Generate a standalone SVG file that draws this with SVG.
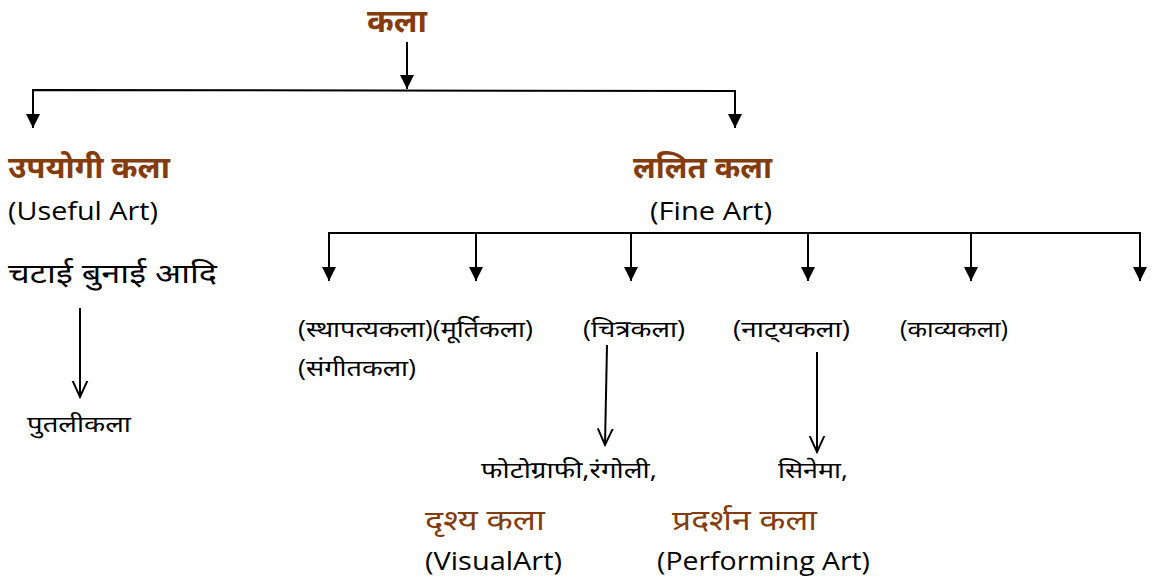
<svg xmlns="http://www.w3.org/2000/svg" width="1157" height="583" viewBox="0 0 1157 583">
<style>
text{font-family:"Open Sans","Noto Sans","Liberation Sans",sans-serif;fill:#000}
.h{fill:#843C0C;font-size:30px;font-weight:bold}
.s{fill:#843C0C;font-size:28px}
.e{font-size:26px}
.d{font-size:23px}
.c{stroke:#000;stroke-width:2;fill:none}
</style>
<defs>
<marker id="tri" viewBox="0 0 10 10" refX="10" refY="5" markerWidth="15" markerHeight="14" markerUnits="userSpaceOnUse" orient="auto">
<path d="M0,0 L10,5 L0,10 z" fill="#000"/>
</marker>
<marker id="open" viewBox="0 0 12 12" refX="11" refY="6" markerWidth="18" markerHeight="18" markerUnits="userSpaceOnUse" orient="auto">
<path d="M0,1 L11,6 L0,11" fill="none" stroke="#000" stroke-width="1.3"/>
</marker>
</defs>
<rect width="1157" height="583" fill="#fff"/>
<g id="connectors">
<line class="c" x1="407" y1="42" x2="407" y2="89" marker-end="url(#tri)"/>
<polyline class="c" points="33,128 33,90 735,91 735,128"/>
<line class="c" x1="33" y1="110" x2="33" y2="128" marker-end="url(#tri)"/>
<line class="c" x1="735" y1="110" x2="735" y2="128" marker-end="url(#tri)"/>
<line class="c" x1="328" y1="233" x2="1141" y2="233"/>
<line class="c" x1="329" y1="233" x2="329" y2="281" marker-end="url(#tri)"/>
<line class="c" x1="476" y1="234" x2="476" y2="281" marker-end="url(#tri)"/>
<line class="c" x1="631" y1="233" x2="631" y2="281" marker-end="url(#tri)"/>
<line class="c" x1="808" y1="233" x2="808" y2="281" marker-end="url(#tri)"/>
<line class="c" x1="971" y1="233" x2="971" y2="281" marker-end="url(#tri)"/>
<line class="c" x1="1140" y1="233" x2="1140" y2="281" marker-end="url(#tri)"/>
<line class="c" x1="80" y1="308" x2="80" y2="397" marker-end="url(#open)"/>
<line class="c" x1="607" y1="345" x2="605" y2="445" marker-end="url(#open)"/>
<line class="c" x1="817" y1="352" x2="817" y2="452" marker-end="url(#open)"/>
</g>
<g id="kala"><text class="h" x="367" y="32" style="font-size:32px" textLength="60" lengthAdjust="spacingAndGlyphs">कला</text></g>
<g id="upyogi">
<text class="h" x="8" y="178" textLength="162" lengthAdjust="spacingAndGlyphs">उपयोगी कला</text>
<text class="e" x="8" y="220" textLength="150" lengthAdjust="spacingAndGlyphs">(Useful Art)</text>
<text class="d" x="8" y="283" style="font-size:27px" textLength="209" lengthAdjust="spacingAndGlyphs">चटाई बुनाई आदि</text>
</g>
<g id="putli"><text class="d" x="27" y="432" textLength="104" lengthAdjust="spacingAndGlyphs">पुतलीकला</text></g>
<g id="lalit">
<text class="h" x="633" y="178" textLength="139" lengthAdjust="spacingAndGlyphs">ललित कला</text>
<text class="e" x="650" y="220" textLength="122" lengthAdjust="spacingAndGlyphs">(Fine Art)</text>
</g>
<g id="sthapatya"><text class="d" x="298" y="337" textLength="235" lengthAdjust="spacingAndGlyphs">(स्थापत्यकला)(मूर्तिकला)</text>
<text class="d" x="298" y="376" textLength="118" lengthAdjust="spacingAndGlyphs">(संगीतकला)</text></g>
<g id="chitra"><text class="d" x="583" y="337" textLength="102" lengthAdjust="spacingAndGlyphs">(चित्रकला)</text></g>
<g id="natya"><text class="d" x="733" y="337" textLength="117" lengthAdjust="spacingAndGlyphs">(नाट्‌यकला)</text></g>
<g id="kavya"><text class="d" x="900" y="337" textLength="108" lengthAdjust="spacingAndGlyphs">(काव्यकला)</text></g>
<g id="photo"><text class="d" x="481" y="478" textLength="176" lengthAdjust="spacingAndGlyphs">फोटोग्राफी,रंगोली,</text></g>
<g id="cinema"><text class="d" x="778" y="478" textLength="70" lengthAdjust="spacingAndGlyphs">सिनेमा,</text></g>
<g id="drishya">
<text class="s" x="425" y="530" textLength="120" lengthAdjust="spacingAndGlyphs">दृश्य कला</text>
<text class="e" x="425" y="570" textLength="137" lengthAdjust="spacingAndGlyphs">(VisualArt)</text>
</g>
<g id="pradarshan">
<text class="s" x="672" y="530" textLength="145" lengthAdjust="spacingAndGlyphs">प्रदर्शन कला</text>
<text class="e" x="657" y="570" textLength="213" lengthAdjust="spacingAndGlyphs">(Performing Art)</text>
</g>
</svg>
